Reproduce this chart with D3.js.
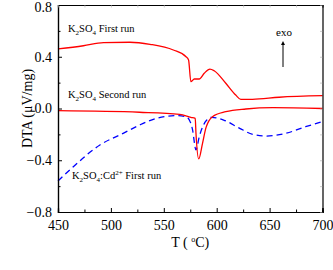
<!DOCTYPE html>
<html>
<head>
	<meta charset="utf-8">
	<title>DTA</title>
	<script src="https://d3js.org/d3.v7.min.js"></script>
	<style>
		body { margin: 0; background: #fff; }
		svg, svg text { font-family: "Liberation Serif", "Times New Roman", Times, serif !important; }
	</style>
</head>
<body>
<script>
	// K2SO4 first run
	var firstT = [450, 474, 493, 518, 537, 559, 571, 573.4, 575.6, 578.8, 583.5, 588.2, 593.6, 597.6, 608.6, 618, 622.8, 633.8, 659, 700];
	var firstV = [0.46, 0.485, 0.509, 0.512, 0.496, 0.452, 0.40, 0.375, 0.207, 0.228, 0.228, 0.272, 0.305, 0.292, 0.195, 0.104, 0.071, 0.071, 0.087, 0.099];
	// K2SO4 second run
	var secondT = [450, 527, 565, 575.6, 579.7, 580.4, 583, 586.6, 589.8, 596, 608.6, 627.5, 653, 700];
	var secondV = [-0.017, -0.029, -0.045, -0.068, -0.076, -0.19, -0.39, -0.269, -0.15, -0.063, -0.025, -0.004, 0.006, 0.0];
	// K2SO4:Cd2+ first run
	var cdT = [450, 464.5, 489.6, 511.6, 527, 543, 561.5, 571, 575.6, 577.2, 580.4, 583.5, 590.6, 595.3, 606.6, 621.7, 634, 646.5, 665.3, 684, 700];
	var cdV = [-0.56, -0.45, -0.282, -0.192, -0.128, -0.076, -0.055, -0.063, -0.115, -0.166, -0.32, -0.218, -0.089, -0.068, -0.089, -0.153, -0.2, -0.213, -0.192, -0.141, -0.102];

	var xTicks = [450, 500, 550, 600, 650, 700];
	var yTicks = [-0.8, -0.4, 0.0, 0.4, 0.8];
	var minorX = [475, 525, 575, 625, 675];
	var minorY = [-0.6, -0.2, 0.2, 0.6];

	var width = 333, height = 270;
	var serif = '"Liberation Serif", "Times New Roman", serif';

	var svg = d3.select('body').append('svg')
		.attr('width', width)
		.attr('height', height)
		.attr('font-family', serif);

	var x = d3.scaleLinear().domain([450, 700]).range([58, 322.5]);
	var y = d3.scaleLinear().domain([-0.8, 0.8]).range([212, 5]);

	var line = d3.line().x(function(d) { return x(d[0]); }).y(function(d) { return y(d[1]); }).curve(d3.curveMonotoneX);

	function zip(a, b) { return a.map(function(v, i) { return [v, b[i]]; }); }

	var plot = svg.append('g');
	plot.append('path').datum(zip(firstT, firstV)).attr('d', line)
		.attr('fill', 'none').attr('stroke', '#ff0000').attr('stroke-width', 1.3);
	plot.append('path').datum(zip(cdT, cdV)).attr('d', line)
		.attr('fill', 'none').attr('stroke', '#0000ff').attr('stroke-width', 1.3)
		.attr('stroke-dasharray', '6,4');
	plot.append('path').datum(zip(secondT, secondV)).attr('d', line)
		.attr('fill', 'none').attr('stroke', '#ff0000').attr('stroke-width', 1.3);

	// axes
	var xAxis = svg.append('g').attr('transform', 'translate(0,' + y(-0.8) + ')')
		.call(d3.axisBottom(x).tickValues(xTicks).tickSize(-4).tickPadding(8).tickFormat(d3.format('d')));
	var xMinor = svg.append('g').attr('transform', 'translate(0,' + y(-0.8) + ')')
		.call(d3.axisBottom(x).tickValues(minorX).tickSize(-2.5).tickFormat(''));
	var yAxis = svg.append('g').attr('transform', 'translate(' + x(450) + ',0)')
		.call(d3.axisLeft(y).tickValues(yTicks).tickSize(-4).tickPadding(6).tickFormat(d3.format('.1f')));
	var yMinor = svg.append('g').attr('transform', 'translate(' + x(450) + ',0)')
		.call(d3.axisLeft(y).tickValues(minorY).tickSize(-2.5).tickFormat(''));
	var xTop = svg.append('g').attr('transform', 'translate(0,' + y(0.8) + ')')
		.call(d3.axisTop(x).tickValues(xTicks.concat(minorX)).tickSize(-2.5).tickFormat(''));
	var yRight = svg.append('g').attr('transform', 'translate(' + x(700) + ',0)')
		.call(d3.axisRight(y).tickValues(yTicks.concat(minorY)).tickSize(-2.5).tickFormat(''));

	[xAxis, xMinor, yAxis, yMinor, xTop, yRight].forEach(function(g) {
		g.attr('font-family', serif);
		g.select('.domain').attr('stroke', '#000').attr('stroke-width', 1.2);
		g.selectAll('.tick line').attr('stroke', '#000').attr('stroke-width', 1);
		g.selectAll('text').attr('font-size', 14).attr('fill', '#000');
	});
	[xTop, yRight].forEach(function(g) {
		g.selectAll('.tick line').attr('stroke', '#aaa').attr('stroke-width', 0.6);
	});
	// keep the top label inside the picture
	yAxis.selectAll('.tick text').filter(function(d) { return d === 0.8; }).attr('dy', '0.45em');

	// axis titles
	svg.append('text')
		.attr('transform', 'translate(29,' + ((y(0.8) + y(-0.8)) / 2) + ') rotate(-90)')
		.attr('text-anchor', 'middle').attr('dominant-baseline', 'middle')
		.attr('font-size', 14)
		.text('DTA (\u03bcV/mg)');

	var xt = svg.append('text')
		.attr('x', (x(450) + x(700)) / 2).attr('y', 247)
		.attr('text-anchor', 'middle').attr('font-size', 14);
	xt.append('tspan').text('T ( ');
	xt.append('tspan').attr('font-size', 8).attr('baseline-shift', '5').text('o');
	xt.append('tspan').text('C)');

	// curve labels
	function k2so4(t) {
		t.append('tspan').text('K');
		t.append('tspan').attr('font-size', 7).attr('baseline-shift', '-3').text('2');
		t.append('tspan').text('SO');
		t.append('tspan').attr('font-size', 7).attr('baseline-shift', '-3').text('4');
	}
	var l1 = svg.append('text').attr('x', 68).attr('y', 32).attr('font-size', 10.5);
	k2so4(l1);
	l1.append('tspan').text(' First run');

	var l2 = svg.append('text').attr('x', 68).attr('y', 98).attr('font-size', 10.5);
	k2so4(l2);
	l2.append('tspan').text(' Second run');

	var l3 = svg.append('text').attr('x', 72).attr('y', 179).attr('font-size', 10.5);
	k2so4(l3);
	l3.append('tspan').text(':Cd');
	l3.append('tspan').attr('font-size', 7).attr('baseline-shift', '4').text('2+');
	l3.append('tspan').text(' First run');

	// exo arrow
	svg.append('text').attr('x', 284).attr('y', 36).attr('text-anchor', 'middle')
		.attr('font-size', 11).text('exo');
	svg.append('defs').append('marker').attr('id', 'ah')
		.attr('viewBox', '0 0 10 10').attr('refX', 5).attr('refY', 5)
		.attr('markerWidth', 4).attr('markerHeight', 6).attr('orient', 'auto')
		.append('path').attr('d', 'M0,0 L10,5 L0,10 z').attr('fill', '#000');
	svg.append('line').attr('x1', 283).attr('x2', 283).attr('y1', 67).attr('y2', 43)
		.attr('stroke', '#000').attr('stroke-width', 1).attr('marker-end', 'url(#ah)');
</script>
</body>
</html>
